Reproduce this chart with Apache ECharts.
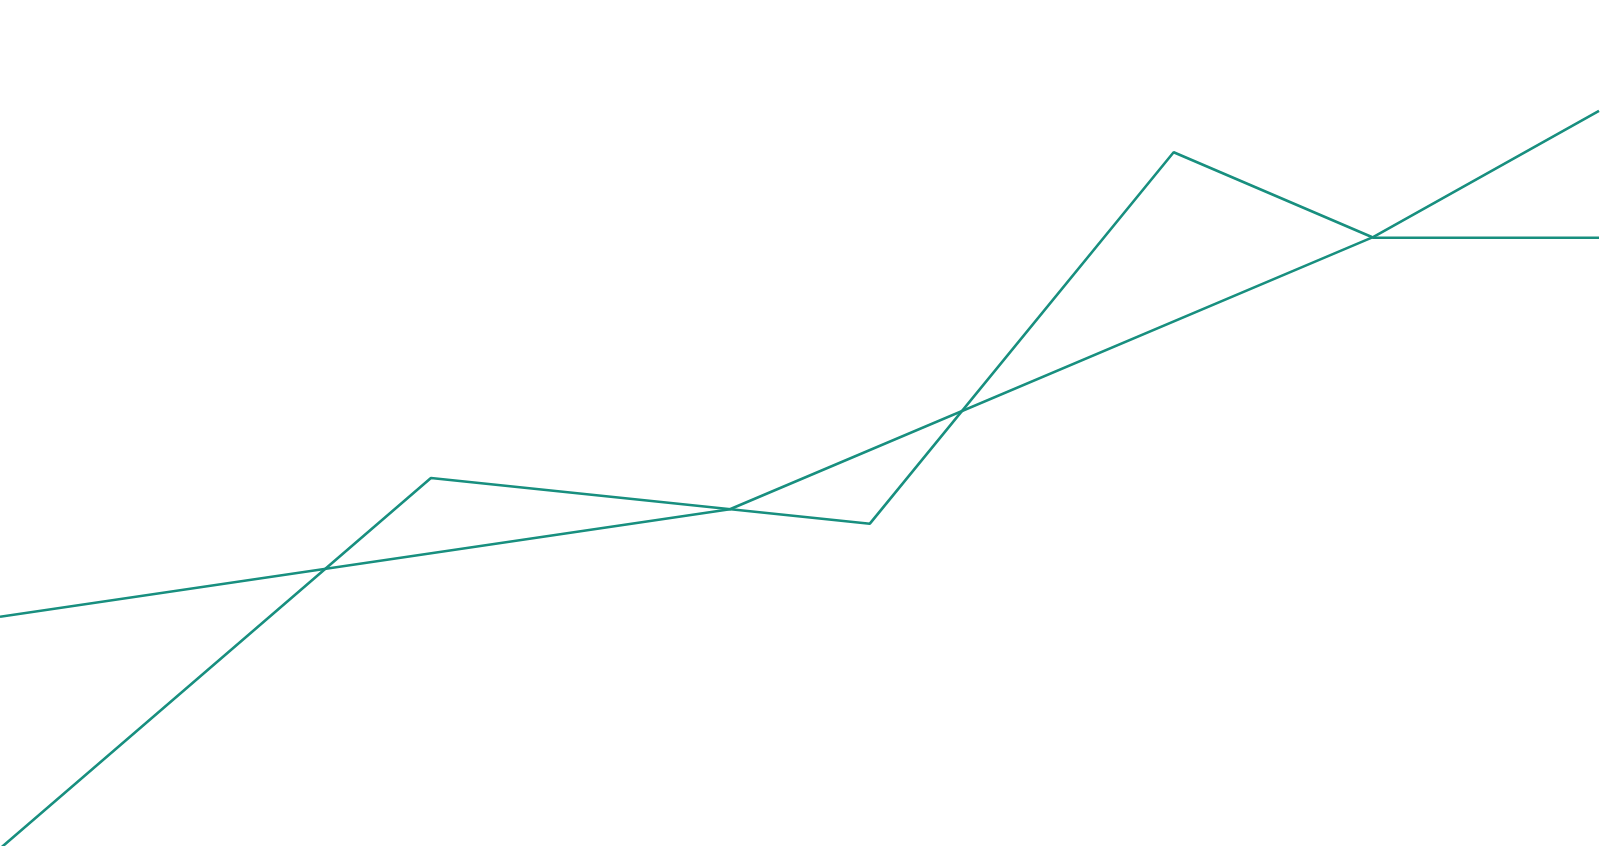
<!DOCTYPE html>
<html>
<head>
<meta charset="utf-8">
<script src="https://cdn.jsdelivr.net/npm/echarts@6/dist/echarts.min.js"></script>
<style>
html,body{margin:0;padding:0;background:#fff;}
#chart{width:1601px;height:846px;}
</style>
</head>
<body>
<div id="chart"></div>
<script>
// Series A (zig-zag) : x positions and values
const seriesAX = [0, 26.95, 54.4, 73.4, 85.9, 100];
const seriesAY = [-0.3, 43.5, 38.1, 82.0, 71.9, 71.9];
// Series B (trend)
const seriesBX = [0, 45.65, 85.9, 100];
const seriesBY = [27.1, 39.8, 72.0, 86.9];

const lineColor = '#188f7f';

const chart = echarts.init(document.getElementById('chart'));
chart.setOption({
  animation: false,
  grid: {left: 0, right: 2, top: 0, bottom: 0, containLabel: false},
  xAxis: {type: 'value', min: 0, max: 100, show: false},
  yAxis: {type: 'value', min: 0, max: 100, show: false},
  series: [
    {
      type: 'line',
      data: seriesAX.map((x, i) => [x, seriesAY[i]]),
      showSymbol: false,
      lineStyle: {color: lineColor, width: 2.6}
    },
    {
      type: 'line',
      data: seriesBX.map((x, i) => [x, seriesBY[i]]),
      showSymbol: false,
      lineStyle: {color: lineColor, width: 2.6}
    }
  ]
});
</script>
</body>
</html>
